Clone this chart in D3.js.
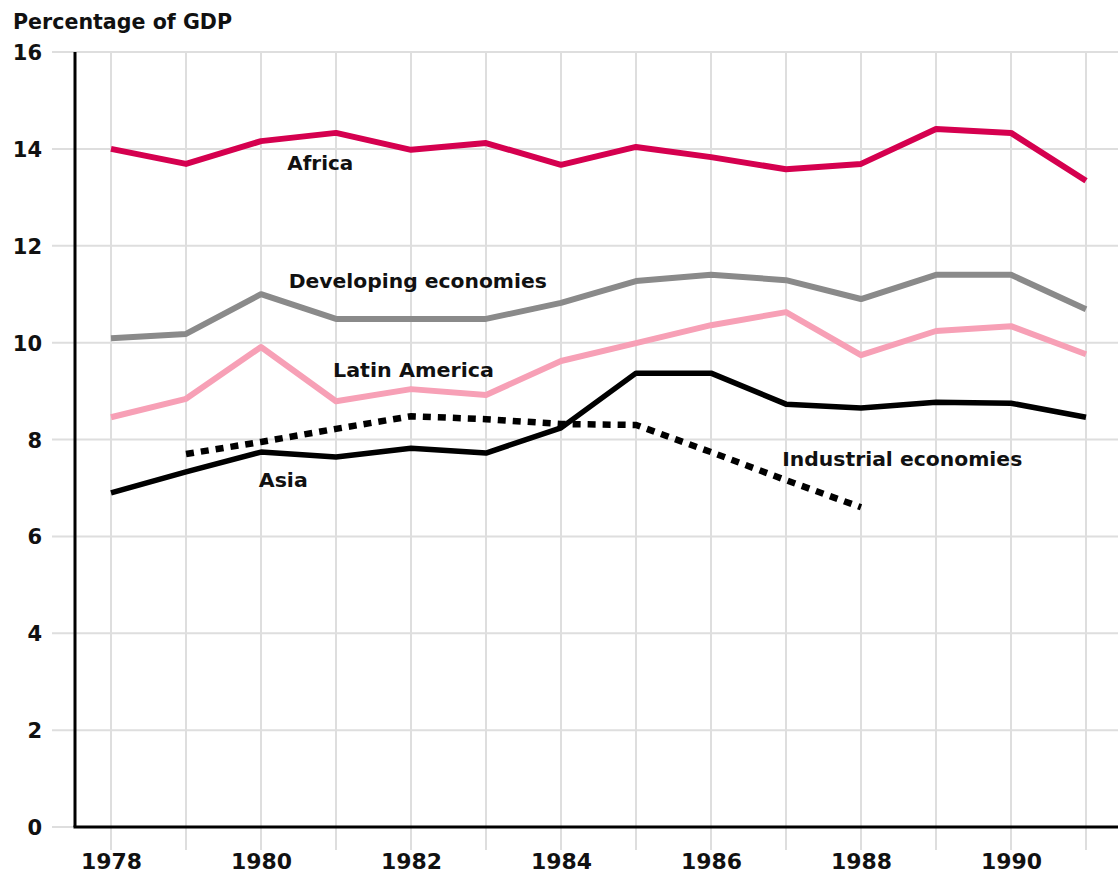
<!DOCTYPE html>
<html>
<head>
<meta charset="utf-8">
<script src="https://cdn.jsdelivr.net/npm/d3@7"></script>
<style>
  html, body { margin: 0; padding: 0; background: #fff; }
  svg { display: block; }
  text { font-family: "DejaVu Sans", "Liberation Sans", sans-serif; font-weight: bold; fill: #111; }
</style>
</head>
<body>
<svg id="chart" width="1118" height="883"></svg>
<script>
// ---- data ----
const years = [1978, 1979, 1980, 1981, 1982, 1983, 1984, 1985, 1986, 1987, 1988, 1989, 1990, 1991];
const africa     = [14.0, 13.69, 14.16, 14.33, 13.98, 14.12, 13.67, 14.04, 13.83, 13.58, 13.69, 14.41, 14.33, 13.34];
const developing = [10.09, 10.18, 11.0, 10.49, 10.49, 10.49, 10.82, 11.27, 11.4, 11.29, 10.9, 11.4, 11.4, 10.69];
const latinAm    = [8.46, 8.84, 9.91, 8.79, 9.04, 8.92, 9.62, 9.99, 10.36, 10.63, 9.74, 10.24, 10.34, 9.76];
const asia       = [6.9, 7.33, 7.74, 7.64, 7.82, 7.72, 8.24, 9.37, 9.37, 8.73, 8.65, 8.77, 8.75, 8.46];
const indYears   = [1979, 1980, 1981, 1982, 1983, 1984, 1985, 1986, 1987, 1988];
const industrial = [7.7, 7.95, 8.22, 8.48, 8.42, 8.32, 8.3, 7.74, 7.16, 6.6];
const yTicks = [0, 2, 4, 6, 8, 10, 12, 14, 16];
const xTickLabels = [1978, 1980, 1982, 1984, 1986, 1988, 1990];
const yTitle = "Percentage of GDP";

// series labels anchored in data space (year, value)
const labelNames  = ["Africa", "Developing economies", "Latin America", "Asia", "Industrial economies"];
const labelYears  = [1980.35, 1980.37, 1980.96, 1979.97, 1986.95];
const labelValues = [13.56, 11.13, 9.29, 7.02, 7.45];

// ---- drawing ----
const svg = d3.select("#chart");
const x = d3.scaleLinear().domain([1978, 1991]).range([111, 1086]);
const y = d3.scaleLinear().domain([0, 16]).range([827, 52]);
const axisX = 75;

// horizontal gridlines
svg.append("g").selectAll("line").data(yTicks).join("line")
  .attr("x1", 52).attr("x2", 1118)
  .attr("y1", d => y(d)).attr("y2", d => y(d))
  .attr("stroke", "#dedede").attr("stroke-width", 2);

// vertical gridlines
svg.append("g").selectAll("line").data(years).join("line")
  .attr("x1", d => x(d)).attr("x2", d => x(d))
  .attr("y1", y(16)).attr("y2", 850)
  .attr("stroke", "#dedede").attr("stroke-width", 2);

// y tick labels via axis
const yAxis = svg.append("g")
  .attr("transform", `translate(${axisX - 33},0)`)
  .call(d3.axisLeft(y).tickValues(yTicks).tickSize(0).tickPadding(0).tickFormat(d3.format("d")));
yAxis.select(".domain").remove();
yAxis.selectAll("text")
  .attr("font-size", 21).attr("font-family", "DejaVu Sans").attr("font-weight", "bold")
  .attr("fill", "#111").attr("dy", "0.36em");

// x tick labels via axis
const xAxis = svg.append("g")
  .attr("transform", `translate(0,${y(0)})`)
  .call(d3.axisBottom(x).tickValues(xTickLabels).tickSize(0).tickPadding(34).tickFormat(d3.format("d")));
xAxis.select(".domain").remove();
xAxis.selectAll("text")
  .attr("font-size", 21).attr("font-family", "DejaVu Sans").attr("font-weight", "bold")
  .attr("fill", "#111").attr("dy", "0.36em")
  .attr("textLength", 61).attr("lengthAdjust", "spacingAndGlyphs");

// axis lines
svg.append("line").attr("x1", axisX).attr("x2", axisX).attr("y1", y(16)).attr("y2", y(0))
  .attr("stroke", "#000").attr("stroke-width", 3);
svg.append("line").attr("x1", axisX - 1.5).attr("x2", 1118).attr("y1", y(0)).attr("y2", y(0))
  .attr("stroke", "#000").attr("stroke-width", 3);

// title
svg.append("text").attr("x", 13).attr("y", 29).attr("font-size", 21)
  .attr("textLength", 219).attr("lengthAdjust", "spacingAndGlyphs")
  .text(yTitle);

// lines
const line = d3.line().x(d => x(d[0])).y(d => y(d[1]));
const series = [
  { vals: africa, color: "#d5004f", width: 6 },
  { vals: developing, color: "#8a8a8a", width: 6 },
  { vals: latinAm, color: "#f7a0b6", width: 6 },
  { vals: asia, color: "#000", width: 5.5 }
];
series.forEach(s => {
  svg.append("path")
    .datum(years.map((yr, i) => [yr, s.vals[i]]))
    .attr("d", line)
    .attr("fill", "none").attr("stroke", s.color).attr("stroke-width", s.width)
    .attr("stroke-linejoin", "round");
});
svg.append("path")
  .datum(indYears.map((yr, i) => [yr, industrial[i]]))
  .attr("d", line)
  .attr("fill", "none").attr("stroke", "#000").attr("stroke-width", 6.5)
  .attr("stroke-dasharray", "8,7");

// series labels
const labelWidths = [66, 258, 161, 49, 240];
svg.append("g").selectAll("text").data(labelNames).join("text")
  .attr("x", (d, i) => x(labelYears[i]))
  .attr("y", (d, i) => y(labelValues[i]))
  .attr("font-size", 20)
  .attr("textLength", (d, i) => labelWidths[i]).attr("lengthAdjust", "spacingAndGlyphs")
  .text(d => d);
</script>
</body>
</html>
